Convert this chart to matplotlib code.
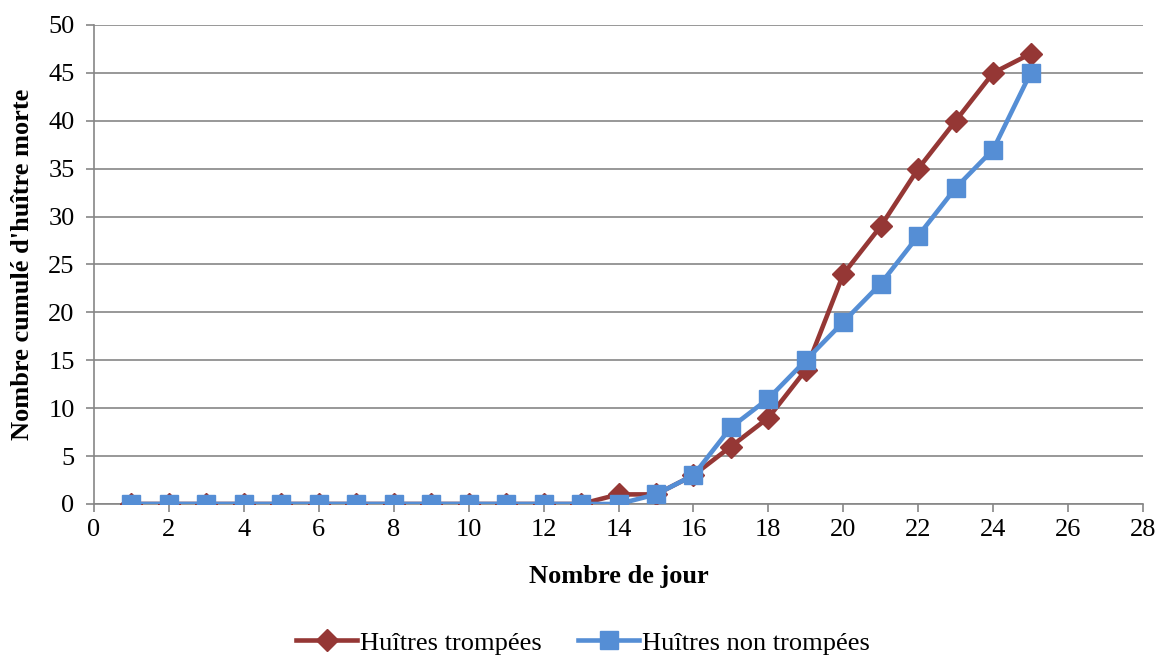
import matplotlib.pyplot as plt

# Données
jours = list(range(1, 26))
trompees = [0, 0, 0, 0, 0, 0, 0, 0, 0, 0, 0, 0, 0, 1, 1, 3, 6, 9, 14, 24, 29, 35, 40, 45, 47]
non_trompees = [0, 0, 0, 0, 0, 0, 0, 0, 0, 0, 0, 0, 0, 0, 1, 3, 8, 11, 15, 19, 23, 28, 33, 37, 45]
xticks = list(range(0, 29, 2))
yticks = list(range(0, 51, 5))

plt.rcParams['font.family'] = ['Liberation Serif', 'DejaVu Serif']

fig = plt.figure(figsize=(11.62, 6.57), dpi=100)
ax = fig.add_axes([0.0809, 0.2329, 0.9028, 0.7291])

ax.plot(jours, trompees, color='#953735', lw=3.3, marker='D', ms=11.5,
        label='Huîtres trompées', zorder=3)
ax.plot(jours, non_trompees, color='#558ED5', lw=3.3, marker='s', ms=13,
        label='Huîtres non trompées', zorder=4)

ax.set_xlim(0, 28)
ax.set_ylim(0, 50)
ax.set_xticks(xticks)
ax.set_yticks(yticks)
ax.tick_params(axis='both', labelsize=19, color='#868686', length=6, width=1.2)
ax.tick_params(axis='y', pad=8)
ax.tick_params(axis='x', pad=5)
ax.yaxis.grid(True, color='#868686', lw=1.2)
ax.set_axisbelow(True)
for s in ['top', 'right']:
    ax.spines[s].set_visible(False)
for s in ['left', 'bottom']:
    ax.spines[s].set_color('#868686')
    ax.spines[s].set_linewidth(1.2)

ax.set_xlabel('Nombre de jour', fontsize=19, fontweight='bold', labelpad=17)
ax.set_ylabel("Nombre cumulé d'huître morte", fontsize=19, fontweight='bold', labelpad=10)

ax.legend(loc='center', bbox_to_anchor=(0.466, -0.29), ncol=2, frameon=False,
          fontsize=19, handlelength=2.3, handletextpad=0.1, columnspacing=1.4,
          borderpad=0)

fig.savefig('out.png', dpi=100)
